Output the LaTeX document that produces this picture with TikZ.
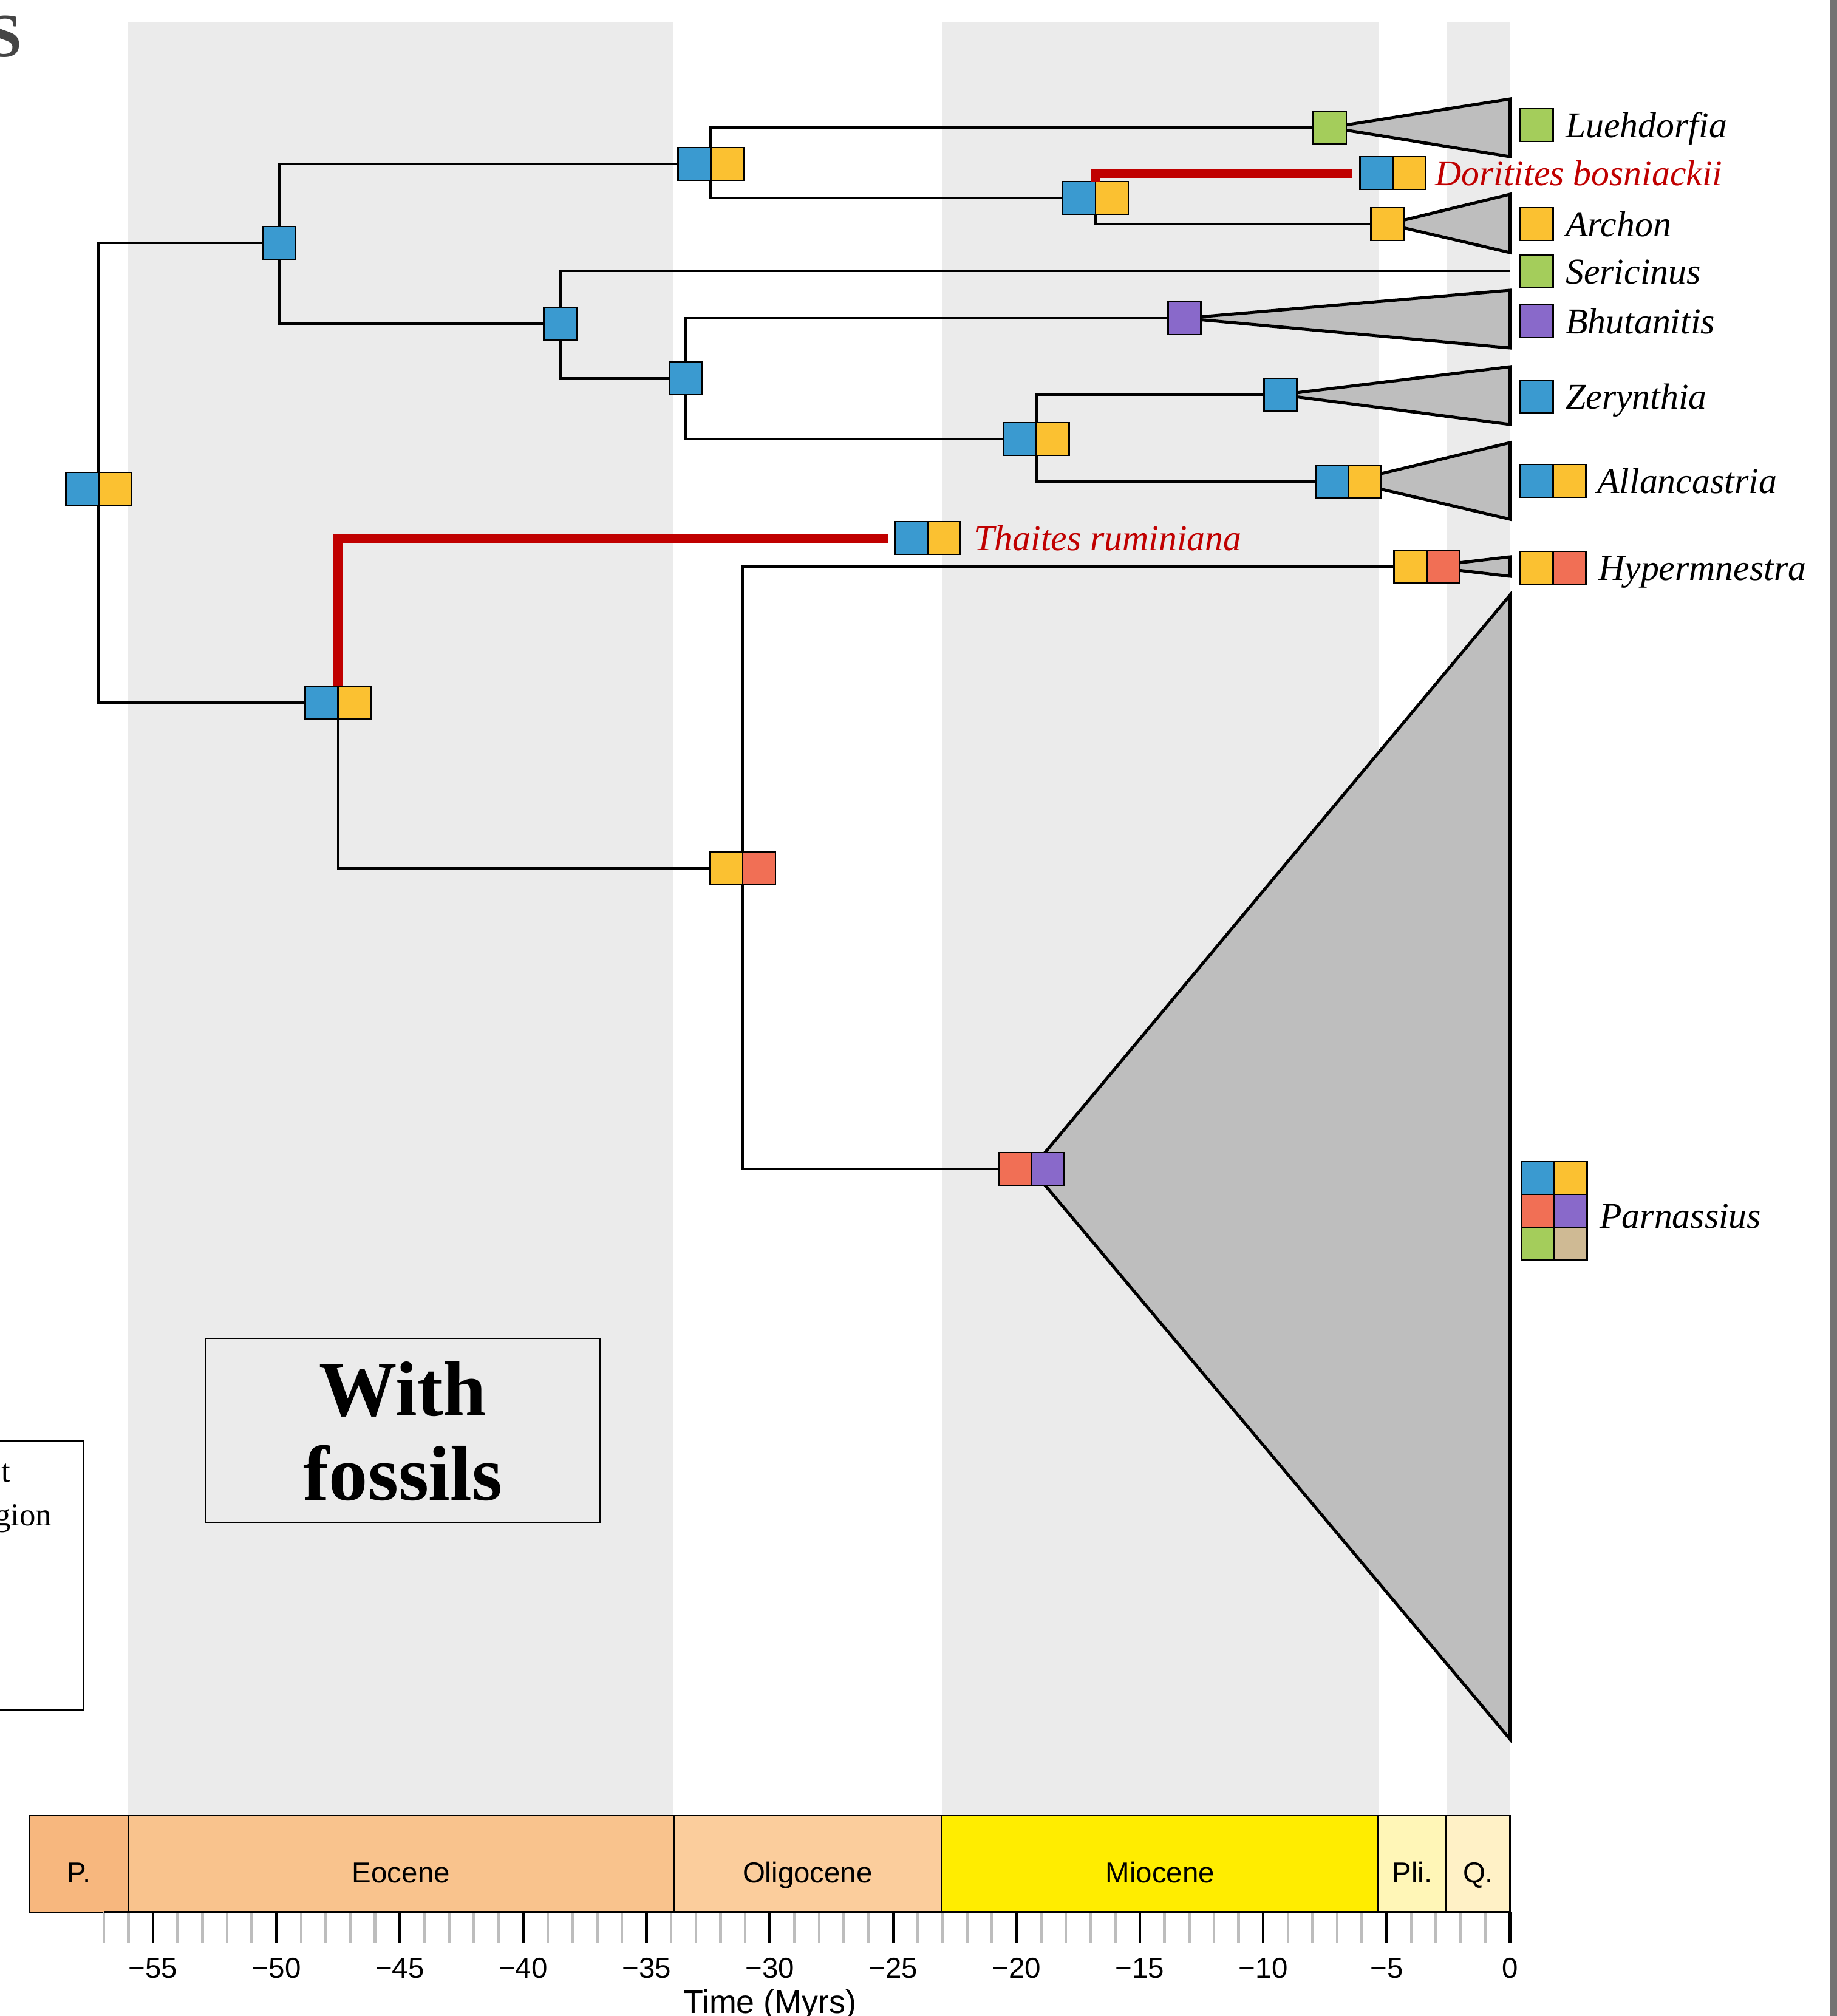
\documentclass[tikz,border=0pt]{standalone}
\usepackage{fontspec}
\setmainfont{Liberation Serif}
\setsansfont{Liberation Sans}
\usetikzlibrary{positioning}

\begin{document}
\begin{tikzpicture}[x=0.406cm, y=-0.01cm]
	\definecolor{blu}{HTML}{3A9AD0}
	\definecolor{ylw}{HTML}{FBC131}
	\definecolor{grn}{HTML}{A4CD5B}
	\definecolor{prp}{HTML}{8969CA}
	\definecolor{sal}{HTML}{F16F55}
	\definecolor{tan}{HTML}{CFBA94}
	\definecolor{fosred}{HTML}{C00000}
	\definecolor{cladegray}{HTML}{BEBEBE}
	\definecolor{bandgray}{HTML}{EBEBEB}
	\definecolor{tickgray}{HTML}{BDBDBD}
	\definecolor{paleo}{HTML}{F7B77E}
	\definecolor{eoc}{HTML}{F9C38D}
	\definecolor{oli}{HTML}{FBCD9C}
	\definecolor{mio}{HTML}{FFED00}
	\definecolor{pli}{HTML}{FFF6B7}
	\definecolor{qua}{HTML}{FFF1C6}
	\colorlet{sgray}{black!73}
	\colorlet{rim}{black!55}

	\tikzstyle{sq} = [draw=black, line width=0.028cm, shape=rectangle, minimum size=0.54cm, inner sep=0pt, outer sep=0pt]
	\tikzstyle{branch} = [draw=black, line width=0.045cm]
	\tikzstyle{fossil} = [draw=fosred, line width=0.15cm, shorten >=0.12cm]
	\tikzstyle{clade} = [draw=black, fill=cladegray, line width=0.05cm]
	\tikzstyle{taxon} = [font=\itshape\fontsize{17pt}{20pt}\selectfont, inner sep=0pt, text height=0.4cm, text depth=0pt]
	\tikzstyle{epoch} = [draw=black, line width=0.028cm]
	\tikzstyle{eplab} = [font=\sffamily\fontsize{13.5pt}{16pt}\selectfont, anchor=base, inner sep=0pt]
	\tikzstyle{minor} = [draw=tickgray, line width=0.045cm]
	\tikzstyle{major} = [draw=black, line width=0.045cm]

	% BACKGROUND %
	\useasboundingbox (-61.207,0) rectangle (13.251,3320);
	\fill[bandgray] (-56,36) rectangle (-33.9,2990);
	\fill[bandgray] (-23.03,36) rectangle (-5.333,2990);
	\fill[bandgray] (-2.58,36) rectangle (0,2990);
	\fill[rim] (12.956,0) rectangle (13.251,3320);
	\node[anchor=base east, inner sep=0pt, text=sgray, font=\bfseries\fontsize{29pt}{30pt}\selectfont] (panel) at (-60.3,93) {S};

	% BOXES %
	\draw[line width=0.025cm] (-62,2373) rectangle (-57.83,2816);
	\node[anchor=base east, inner sep=0pt, font=\fontsize{15pt}{18pt}\selectfont] (leg1) at (-60.76,2440) {t};
	\node[anchor=base east, inner sep=0pt, font=\fontsize{15pt}{18pt}\selectfont] (leg2) at (-59.09,2512) {gion};
	\draw[line width=0.025cm] (-52.86,2204) rectangle (-36.87,2507);
	\node[anchor=base, inner sep=0pt, font=\bfseries\fontsize{36.5pt}{40pt}\selectfont] (fos1) at (-44.88,2331) {With};
	\node[anchor=base, inner sep=0pt, font=\bfseries\fontsize{36.5pt}{40pt}\selectfont] (fos2) at (-44.88,2470) {fossils};

	% NODES %
	\coordinate (root) at (-57.2,805);
	\coordinate (nA) at (-49.9,400);
	\coordinate (nB) at (-32.4,270);
	\coordinate (lue) at (-7.3,210);
	\coordinate (nG) at (-16.8,326);
	\coordinate (dor) at (-4.75,285);
	\coordinate (arc) at (-4.97,369);
	\coordinate (nC) at (-38.5,533);
	\coordinate (ser) at (0,446);
	\coordinate (nD) at (-33.4,623);
	\coordinate (bhu) at (-13.2,524);
	\coordinate (nH) at (-19.2,723);
	\coordinate (zer) at (-9.3,650);
	\coordinate (all) at (-6.55,793);
	\coordinate (nE) at (-47.5,1157);
	\coordinate (tha) at (-23.6,886);
	\coordinate (nF) at (-31.1,1430);
	\coordinate (hyp) at (-3.37,933);
	\coordinate (par) at (-19.4,1925);

	% EDGES %
	\draw[branch] (root) |- (nA);
	\draw[branch] (root) |- (nE);
	\draw[branch] (nA) |- (nB);
	\draw[branch] (nA) |- (nC);
	\draw[branch] (nB) |- (lue);
	\draw[branch] (nB) |- (nG);
	\draw[branch] (nG) |- (arc);
	\draw[branch] (nC) |- (ser);
	\draw[branch] (nC) |- (nD);
	\draw[branch] (nD) |- (bhu);
	\draw[branch] (nD) |- (nH);
	\draw[branch] (nH) |- (zer);
	\draw[branch] (nH) |- (all);
	\draw[branch] (nE) |- (nF);
	\draw[branch] (nF) |- (hyp);
	\draw[branch] (nF) |- (par);

	% CLADES %
	\filldraw[clade] (lue) -- (0,163) -- (0,258) -- cycle;
	\filldraw[clade] (arc) -- (0,320) -- (0,416) -- cycle;
	\filldraw[clade] (bhu) -- (0,478) -- (0,573) -- cycle;
	\filldraw[clade] (zer) -- (0,604) -- (0,699) -- cycle;
	\filldraw[clade] (all) -- (0,729) -- (0,855) -- cycle;
	\filldraw[clade] (hyp) -- (0,917) -- (0,949) -- cycle;
	\filldraw[clade] (par) -- (0,980) -- (0,2864) -- cycle;

	% STATES %
	\node[sq, fill=blu, anchor=east] (root-l) at (root) {};
	\node[sq, fill=ylw, anchor=west] (root-r) at (root) {};
	\node[sq, fill=blu] (nA-s) at (nA) {};
	\node[sq, fill=blu, anchor=east] (nB-l) at (nB) {};
	\node[sq, fill=ylw, anchor=west] (nB-r) at (nB) {};
	\node[sq, fill=grn] (lue-s) at (lue) {};
	\node[sq, fill=blu, anchor=east] (nG-l) at (nG) {};
	\node[sq, fill=ylw, anchor=west] (nG-r) at (nG) {};
	\node[sq, fill=blu, anchor=east] (dor-l) at (dor) {};
	\node[sq, fill=ylw, anchor=west] (dor-r) at (dor) {};
	\node[sq, fill=ylw] (arc-s) at (arc) {};
	\node[sq, fill=blu] (nC-s) at (nC) {};
	\node[sq, fill=blu] (nD-s) at (nD) {};
	\node[sq, fill=prp] (bhu-s) at (bhu) {};
	\node[sq, fill=blu, anchor=east] (nH-l) at (nH) {};
	\node[sq, fill=ylw, anchor=west] (nH-r) at (nH) {};
	\node[sq, fill=blu] (zer-s) at (zer) {};
	\node[sq, fill=blu, anchor=east] (all-l) at (all) {};
	\node[sq, fill=ylw, anchor=west] (all-r) at (all) {};
	\node[sq, fill=blu, anchor=east] (nE-l) at (nE) {};
	\node[sq, fill=ylw, anchor=west] (nE-r) at (nE) {};
	\node[sq, fill=blu, anchor=east] (tha-l) at (tha) {};
	\node[sq, fill=ylw, anchor=west] (tha-r) at (tha) {};
	\node[sq, fill=ylw, anchor=east] (nF-l) at (nF) {};
	\node[sq, fill=sal, anchor=west] (nF-r) at (nF) {};
	\node[sq, fill=ylw, anchor=east] (hyp-l) at (hyp) {};
	\node[sq, fill=sal, anchor=west] (hyp-r) at (hyp) {};
	\node[sq, fill=sal, anchor=east] (par-l) at (par) {};
	\node[sq, fill=prp, anchor=west] (par-r) at (par) {};

	% FOSSILS %
	\draw[fossil] (nG-l.north east) |- (dor-l.west);
	\draw[fossil] (nE-l.north east) |- (tha-l.west);
	\node[taxon, text=fosred, right=0.15cm of dor-r] (dor-n) {Doritites bosniackii};
	\node[taxon, text=fosred, right=0.22cm of tha-r] (tha-n) {Thaites ruminiana};

	% TIPS %
	\node[sq, fill=grn, anchor=west] (lue-t) at (0.42,206) {};
	\node[taxon, right=0.2cm of lue-t] (lue-n) {Luehdorfia};
	\node[sq, fill=ylw, anchor=west] (arc-t) at (0.42,369) {};
	\node[taxon, right=0.2cm of arc-t] (arc-n) {Archon};
	\node[sq, fill=grn, anchor=west] (ser-t) at (0.42,447) {};
	\node[taxon, right=0.2cm of ser-t] (ser-n) {Sericinus};
	\node[sq, fill=prp, anchor=west] (bhu-t) at (0.42,529) {};
	\node[taxon, right=0.2cm of bhu-t] (bhu-n) {Bhutanitis};
	\node[sq, fill=blu, anchor=west] (zer-t) at (0.42,653) {};
	\node[taxon, right=0.2cm of zer-t] (zer-n) {Zerynthia};
	\node[sq, fill=blu, anchor=west] (all-t1) at (0.42,792) {};
	\node[sq, fill=ylw, right=0pt of all-t1] (all-t2) {};
	\node[taxon, right=0.18cm of all-t2] (all-n) {Allancastria};
	\node[sq, fill=ylw, anchor=west] (hyp-t1) at (0.42,935) {};
	\node[sq, fill=sal, right=0pt of hyp-t1] (hyp-t2) {};
	\node[taxon, right=0.2cm of hyp-t2] (hyp-n) {Hypermnestra};
	\node[sq, fill=blu, anchor=north west] (par-t1) at (0.47,1913) {};
	\node[sq, fill=ylw, right=0pt of par-t1] (par-t2) {};
	\node[sq, fill=sal, below=0pt of par-t1] (par-t3) {};
	\node[sq, fill=prp, right=0pt of par-t3] (par-t4) {};
	\node[sq, fill=grn, below=0pt of par-t3] (par-t5) {};
	\node[sq, fill=tan, right=0pt of par-t5] (par-t6) {};
	\node[taxon, right=0.2cm of par-t4, yshift=-0.08cm] (par-n) {Parnassius};

	% TIMESCALE %
	\filldraw[epoch, fill=paleo] (-60,2990) rectangle (-56,3149);
	\filldraw[epoch, fill=eoc] (-56,2990) rectangle (-33.9,3149);
	\filldraw[epoch, fill=oli] (-33.9,2990) rectangle (-23.03,3149);
	\filldraw[epoch, fill=mio] (-23.03,2990) rectangle (-5.333,3149);
	\filldraw[epoch, fill=pli] (-5.333,2990) rectangle (-2.58,3149);
	\filldraw[epoch, fill=qua] (-2.58,2990) rectangle (0,3149);
	\node[eplab] (pal-l) at (-58,3100) {P.};
	\node[eplab] (eoc-l) at (-44.95,3100) {Eocene};
	\node[eplab] (oli-l) at (-28.47,3100) {Oligocene};
	\node[eplab] (mio-l) at (-14.18,3100) {Miocene};
	\node[eplab] (pli-l) at (-3.96,3100) {Pli.};
	\node[eplab] (qua-l) at (-1.29,3100) {Q.};

	\foreach \t in {-57,...,0}
		\draw[minor] (\t,3149) -- (\t,3199);
	\foreach \t in {55,50,...,5} {
		\draw[major] (-\t,3149) -- (-\t,3199);
		\node[eplab] at (-\t,3257) {−\t};
	}
	\draw[major] (0,3149) -- (0,3199);
	\node[eplab] at (0,3257) {0};
	\draw[line width=0.04cm] (-57,3149) -- (0,3149);
	\node[anchor=north, inner sep=0pt, font=\sffamily\fontsize{15.3pt}{18pt}\selectfont] (tlab) at (-30,3276) {Time (Myrs)};
\end{tikzpicture}
\end{document}
